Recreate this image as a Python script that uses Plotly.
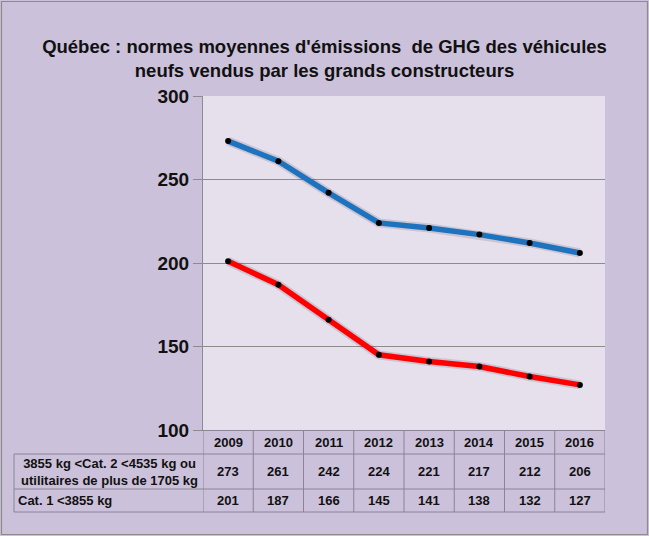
import plotly.graph_objects as go

years = ["2009", "2010", "2011", "2012", "2013", "2014", "2015", "2016"]
cat2 = [273, 261, 242, 224, 221, 217, 212, 206]
cat1 = [201, 187, 166, 145, 141, 138, 132, 127]
cat2_label = "3855 kg <Cat. 2 <4535 kg ou<br>utilitaires de plus de 1705 kg"
cat1_label = "Cat. 1 <3855 kg"
title = "Québec : normes moyennes d'émissions  de GHG des véhicules<br>neufs vendus par les grands constructeurs"
y_ticks = [100, 150, 200, 250, 300]

W, H = 649, 536
L, R, T, B = 203, 44, 96, 106
pw, ph = W - L - R, H - T - B


def px(x):
    return (x - L) / pw


def py(y):
    return (H - B - y) / ph


BG = "#CCC1DA"
PLOT_BG = "#E5E0EC"
GRID = "#8C8C8C"
TLINE = "#8A8494"
FONT = "Liberation Sans"

xi = list(range(len(years)))

fig = go.Figure()
# soft shadow under the lines
for vals in (cat2, cat1):
    fig.add_trace(go.Scatter(x=xi, y=vals, mode="lines",
                             line=dict(color="rgba(60,50,80,0.16)", width=9),
                             hoverinfo="skip", showlegend=False))
fig.add_trace(go.Scatter(x=xi, y=cat2, mode="lines+markers", name=cat2_label,
                         line=dict(color="#1E73BE", width=5.5),
                         marker=dict(color="black", size=6), showlegend=False))
fig.add_trace(go.Scatter(x=xi, y=cat1, mode="lines+markers", name=cat1_label,
                         line=dict(color="#FF0000", width=5.5),
                         marker=dict(color="black", size=6), showlegend=False))

y_hdr = py(442)
y_r2 = py(471.5)
y_r3 = py(500.5)
y_l1 = py(454)
y_l2 = py(489)
y_l3 = py(512)
x_left = px(14)

shapes = []
for yy in (y_l1, y_l2, y_l3):
    shapes.append(dict(type="line", xref="paper", yref="paper", x0=x_left, x1=1,
                       y0=yy, y1=yy, line=dict(color=TLINE, width=1)))
shapes.append(dict(type="line", xref="paper", yref="paper", x0=x_left, x1=x_left,
                   y0=y_l1, y1=y_l3, line=dict(color=TLINE, width=1)))
for i in range(len(years) + 1):
    shapes.append(dict(type="line", xref="x", yref="paper", x0=i - 0.5, x1=i - 0.5,
                       y0=0, y1=y_l3, line=dict(color=TLINE, width=1)))
shapes.append(dict(type="rect", xref="paper", yref="paper", x0=px(1.5), x1=px(647.5),
                   y0=py(534.5), y1=py(1.5), line=dict(color="#8C8C8C", width=1.2),
                   fillcolor="rgba(0,0,0,0)", layer="below"))

annotations = []
tf = dict(family=FONT, size=13, color="#111111", weight="bold")
for i, (yr, a, b) in enumerate(zip(years, cat2, cat1)):
    for yy, txt in ((y_hdr, yr), (y_r2, str(a)), (y_r3, str(b))):
        annotations.append(dict(x=i, y=yy, xref="x", yref="paper", text=txt,
                                xanchor="center", yanchor="middle",
                                showarrow=False, font=tf))
annotations.append(dict(x=px(109), y=y_r2, xref="paper", yref="paper",
                        xanchor="center", yanchor="middle",
                        text=cat2_label, showarrow=False, align="center",
                        font=dict(family=FONT, size=13, color="#111111", weight="bold")))
annotations.append(dict(x=px(16), y=y_r3, xref="paper", yref="paper",
                        xanchor="left", yanchor="middle",
                        text=cat1_label, showarrow=False,
                        font=dict(family=FONT, size=13, color="#111111", weight="bold")))

fig.update_layout(
    width=W, height=H,
    margin=dict(l=L, r=R, t=T, b=B),
    paper_bgcolor=BG, plot_bgcolor=PLOT_BG,
    title=dict(text=title, x=0.5, xanchor="center", y=1 - 53 / H,
               yanchor="middle",
               font=dict(family=FONT, size=18.5, color="#111111", weight="bold")),
    xaxis=dict(range=[-0.5, len(years) - 0.5], showticklabels=False, showgrid=False,
               zeroline=False, showline=True, linecolor=TLINE, linewidth=1, fixedrange=True),
    yaxis=dict(range=[100, 300], tickvals=y_ticks, showgrid=True, gridcolor=GRID, gridwidth=1,
               zeroline=False, showline=True, linecolor=GRID, linewidth=1,
               ticks="outside", ticklen=9, tickcolor=GRID, automargin=False,
               tickfont=dict(family=FONT, size=19, color="#111111", weight="bold")),
    shapes=shapes, annotations=annotations,
)

fig.write_html("out.html", config={"displayModeBar": False},
               post_script="document.body.style.margin='0';document.body.style.padding='0';")
